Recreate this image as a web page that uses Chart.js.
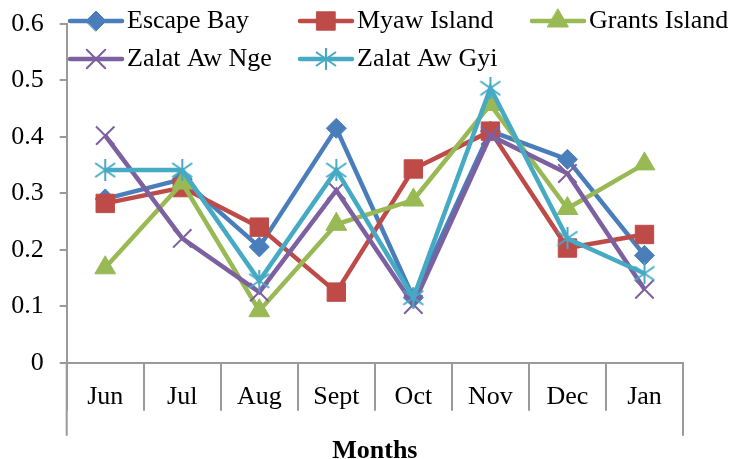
<!DOCTYPE html>
<html>
<head>
<meta charset="utf-8">
<script src="https://cdn.jsdelivr.net/npm/chart.js@4/dist/chart.umd.min.js"></script>
<style>
  html, body { margin: 0; padding: 0; background: #fff; }
  #wrap { width: 729px; height: 459px; }
</style>
</head>
<body>
<div id="wrap"><canvas id="c" width="729" height="459"></canvas></div>
<script>
// Monthly values per site
const months = ['Jun', 'Jul', 'Aug', 'Sept', 'Oct', 'Nov', 'Dec', 'Jan'];
const escapeBay   = [0.290, 0.325, 0.205, 0.415, 0.115, 0.410, 0.360, 0.190];
const myawIsland  = [0.282, 0.310, 0.240, 0.125, 0.343, 0.410, 0.203, 0.227];
const grantsIsland = [0.168, 0.318, 0.092, 0.245, 0.288, 0.457, 0.273, 0.352];
const zalatAwNge  = [0.402, 0.220, 0.125, 0.305, 0.103, 0.402, 0.335, 0.130];
const zalatAwGyi  = [0.341, 0.341, 0.145, 0.341, 0.115, 0.486, 0.220, 0.158];
const seriesNames = ['Escape Bay', 'Myaw Island', 'Grants Island', 'Zalat Aw Nge', 'Zalat Aw Gyi'];

const FONT = "'Liberation Serif', 'Times New Roman', serif";
const AXIS = '#9a9a9a';

// Asterisk marker: an X with a vertical stroke
function asterisk(color) {
  const c = document.createElement('canvas');
  c.width = 22; c.height = 22;
  const g = c.getContext('2d');
  g.strokeStyle = color; g.lineWidth = 2; g.lineCap = 'butt';
  g.beginPath();
  g.moveTo(11, 0); g.lineTo(11, 22);
  g.moveTo(1, 4); g.lineTo(21, 18);
  g.moveTo(1, 18); g.lineTo(21, 4);
  g.stroke();
  return c;
}

const styles = [
  { color: '#4A7EBB', pointStyle: 'rectRot', radius: 10, pbw: 1, order: 5 },
  { color: '#BE4B48', pointStyle: 'rect', radius: 13, pbw: 1, order: 4 },
  { color: '#98B954', pointStyle: 'triangle', radius: 12, pbw: 1, order: 3 },
  { color: '#7D60A0', pointStyle: 'crossRot', radius: 13, pbw: 2, order: 2 },
  { color: '#46AAC5', pointStyle: asterisk('#46AAC5'), radius: 11, pbw: 2, order: 1 }
];
const values = [escapeBay, myawIsland, grantsIsland, zalatAwNge, zalatAwGyi];

const datasets = values.map((v, i) => ({
  label: seriesNames[i],
  data: v,
  borderColor: styles[i].color,
  backgroundColor: styles[i].color,
  borderWidth: 4.5,
  pointStyle: styles[i].pointStyle,
  pointRadius: styles[i].radius,
  pointBorderWidth: styles[i].pbw,
  pointBackgroundColor: styles[i].color,
  pointBorderColor: styles[i].color,
  tension: 0,
  order: styles[i].order
}));

// Two-row legend laid out in columns over the top of the plot
const legendGrid = {
  id: 'legendGrid',
  afterDraw(chart) {
    const ctx = chart.ctx;
    const cols = [68, 298, 530];
    const rows = [21, 59];
    chart.data.datasets.forEach((ds, i) => {
      const x0 = cols[i % 3];
      const y = rows[Math.floor(i / 3)];
      ctx.save();
      ctx.strokeStyle = ds.borderColor;
      ctx.lineWidth = ds.borderWidth;
      ctx.lineCap = 'round';
      ctx.beginPath();
      ctx.moveTo(x0 + 2, y);
      ctx.lineTo(x0 + 54, y);
      ctx.stroke();
      ctx.fillStyle = ds.pointBackgroundColor;
      ctx.strokeStyle = ds.pointBorderColor;
      ctx.lineWidth = ds.pointBorderWidth;
      Chart.helpers.drawPoint(ctx, {
        pointStyle: ds.pointStyle, radius: ds.pointRadius,
        borderWidth: ds.pointBorderWidth, rotation: 0
      }, x0 + 28, y);
      ctx.fillStyle = '#000';
      ctx.font = '26px ' + FONT;
      ctx.textBaseline = 'middle';
      ctx.textAlign = 'left';
      ctx.fillText(ds.label, x0 + 59, y);
      ctx.restore();
    });
  }
};

// Outer edges of the category axis run down past the labels
const axisEdges = {
  id: 'axisEdges',
  afterDraw(chart) {
    const { ctx, chartArea } = chart;
    ctx.save();
    ctx.strokeStyle = AXIS;
    ctx.lineWidth = 2;
    ctx.beginPath();
    [chartArea.left, chartArea.right].forEach(x => {
      ctx.moveTo(x, chartArea.bottom);
      ctx.lineTo(x, chartArea.bottom + 73);
    });
    ctx.stroke();
    ctx.restore();
  }
};

new Chart(document.getElementById('c'), {
  type: 'line',
  data: { labels: months, datasets },
  options: {
    responsive: false,
    animation: false,
    devicePixelRatio: 1,
    layout: { autoPadding: false, padding: { top: 20.7, right: 46, bottom: 0, left: 0 } },
    plugins: { legend: { display: false }, tooltip: { enabled: false } },
    scales: {
      x: {
        type: 'category',
        offset: true,
        afterFit(s) { s.height = 96.3; },
        grid: {
          offset: true,
          drawOnChartArea: false,
          drawTicks: true,
          tickLength: 48,
          color: AXIS,
          lineWidth: 2
        },
        border: { display: true, color: AXIS, width: 2 },
        ticks: {
          color: '#000',
          font: { family: FONT, size: 26, lineHeight: 1 },
          padding: -27,
          maxRotation: 0,
          autoSkip: false
        },
        title: {
          display: true,
          text: 'Months',
          color: '#000',
          font: { family: FONT, size: 26, weight: 'bold', lineHeight: 0.6 },
          padding: { top: 0, bottom: 0 }
        }
      },
      y: {
        min: 0,
        max: 0.6,
        afterFit(s) { s.width = 66.7; },
        ticks: {
          stepSize: 0.1,
          color: '#000',
          font: { family: FONT, size: 26, lineHeight: 0.6 },
          padding: 16
        },
        grid: {
          drawOnChartArea: false,
          drawTicks: true,
          tickLength: 7,
          color: AXIS,
          lineWidth: 2
        },
        border: { display: true, color: AXIS, width: 2 }
      }
    }
  },
  plugins: [legendGrid, axisEdges]
});
</script>
</body>
</html>
